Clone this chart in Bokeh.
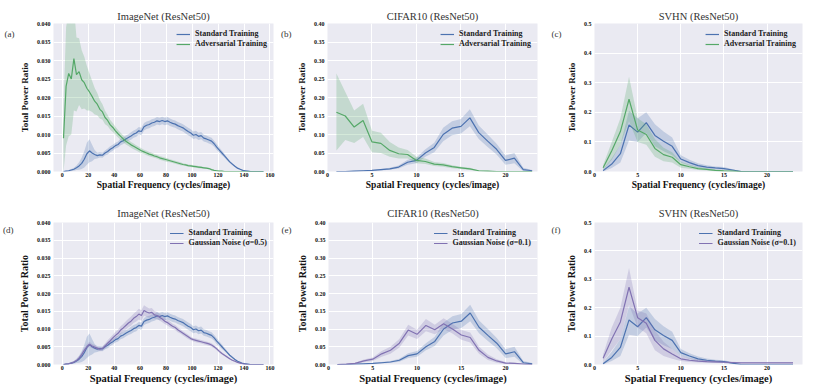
from bokeh.plotting import figure
from bokeh.layouts import column, row
from bokeh.models import (FixedTicker, PrintfTickFormatter, Legend, LegendItem,
                          Range1d, LinearAxis)
from bokeh.embed import file_html
from bokeh.resources import INLINE

# ---------------- data ----------------
# ImageNet: spatial frequency (every 2 cycles/image)
imagenet_freq = list(range(1, 156, 2))

imagenet_std = [
    0.0000, 0.0001, 0.0002, 0.0004, 0.0006, 0.0010, 0.0015, 0.0022, 0.0033, 0.0048,
    0.0056, 0.0050, 0.0046, 0.0043, 0.0045, 0.0044, 0.0050, 0.0054, 0.0060, 0.0064,
    0.0070, 0.0073, 0.0080, 0.0083, 0.0088, 0.0092, 0.0096, 0.0101, 0.0104, 0.0110,
    0.0108, 0.0121, 0.0125, 0.0127, 0.0131, 0.0133, 0.0137, 0.0135, 0.0138, 0.0135,
    0.0137, 0.0133, 0.0130, 0.0128, 0.0124, 0.0121, 0.0118, 0.0113, 0.0108, 0.0104,
    0.0098, 0.0100, 0.0095, 0.0097, 0.0090, 0.0088, 0.0085, 0.0082, 0.0075, 0.0066,
    0.0058, 0.0050, 0.0042, 0.0034, 0.0026, 0.0020, 0.0014, 0.0009, 0.0006, 0.0003,
    0.0002, 0.0001, 0.0000, 0.0000, 0.0000, 0.0000, 0.0000, 0.0000]
imagenet_std_spread = [
    0.0001, 0.0002, 0.0002, 0.0003, 0.0004, 0.0006, 0.0010, 0.0015, 0.0022, 0.0030,
    0.0031, 0.0022, 0.0012, 0.0008, 0.0007, 0.0007, 0.0007, 0.0008, 0.0008, 0.0008,
    0.0008, 0.0008, 0.0009, 0.0009, 0.0009, 0.0009, 0.0010, 0.0010, 0.0010, 0.0010,
    0.0010, 0.0010, 0.0010, 0.0010, 0.0010, 0.0010, 0.0010, 0.0010, 0.0010, 0.0010,
    0.0010, 0.0010, 0.0010, 0.0010, 0.0010, 0.0010, 0.0010, 0.0010, 0.0010, 0.0010,
    0.0010, 0.0010, 0.0010, 0.0010, 0.0009, 0.0009, 0.0009, 0.0009, 0.0008, 0.0008,
    0.0007, 0.0006, 0.0005, 0.0004, 0.0003, 0.0003, 0.0002, 0.0002, 0.0001, 0.0001,
    0.0001, 0.0000, 0.0000, 0.0000, 0.0000, 0.0000, 0.0000, 0.0000]

imagenet_adv = [
    0.0090, 0.0230, 0.0265, 0.0250, 0.0305, 0.0262, 0.0270, 0.0248, 0.0240, 0.0225,
    0.0215, 0.0203, 0.0190, 0.0182, 0.0168, 0.0161, 0.0146, 0.0138, 0.0126, 0.0119,
    0.0110, 0.0102, 0.0095, 0.0088, 0.0082, 0.0077, 0.0072, 0.0068, 0.0064, 0.0060,
    0.0056, 0.0053, 0.0050, 0.0047, 0.0045, 0.0042, 0.0040, 0.0037, 0.0035, 0.0033,
    0.0031, 0.0029, 0.0027, 0.0025, 0.0023, 0.0021, 0.0019, 0.0018, 0.0016, 0.0015,
    0.0014, 0.0013, 0.0012, 0.0011, 0.0010, 0.0009, 0.0008, 0.0005, 0.0003, 0.0002,
    0.0001, 0.0001, 0.0000, 0.0000, 0.0000, 0.0000, 0.0000, 0.0000, 0.0000, 0.0000,
    0.0000, 0.0000, 0.0000, 0.0000, 0.0000, 0.0000, 0.0000, 0.0000]
imagenet_adv_spread = [
    0.0090, 0.0160, 0.0170, 0.0150, 0.0140, 0.0100, 0.0090, 0.0080, 0.0070, 0.0060,
    0.0050, 0.0042, 0.0036, 0.0030, 0.0025, 0.0021, 0.0018, 0.0015, 0.0013, 0.0012,
    0.0011, 0.0010, 0.0010, 0.0009, 0.0009, 0.0008, 0.0008, 0.0008, 0.0007, 0.0007,
    0.0007, 0.0006, 0.0006, 0.0006, 0.0006, 0.0005, 0.0005, 0.0005, 0.0005, 0.0005,
    0.0005, 0.0004, 0.0004, 0.0004, 0.0004, 0.0004, 0.0003, 0.0003, 0.0003, 0.0003,
    0.0003, 0.0003, 0.0003, 0.0003, 0.0002, 0.0002, 0.0002, 0.0002, 0.0001, 0.0001,
    0.0001, 0.0001, 0.0000, 0.0000, 0.0000, 0.0000, 0.0000, 0.0000, 0.0000, 0.0000,
    0.0000, 0.0000, 0.0000, 0.0000, 0.0000, 0.0000, 0.0000, 0.0000]

imagenet_gau = [
    0.0000, 0.0001, 0.0002, 0.0004, 0.0007, 0.0011, 0.0018, 0.0028, 0.0040, 0.0050,
    0.0057, 0.0052, 0.0049, 0.0046, 0.0043, 0.0045, 0.0052, 0.0060, 0.0067, 0.0075,
    0.0082, 0.0088, 0.0097, 0.0103, 0.0110, 0.0117, 0.0122, 0.0130, 0.0135, 0.0142,
    0.0138, 0.0152, 0.0148, 0.0145, 0.0147, 0.0140, 0.0138, 0.0133, 0.0128, 0.0122,
    0.0118, 0.0113, 0.0108, 0.0104, 0.0098, 0.0093, 0.0088, 0.0083, 0.0078, 0.0073,
    0.0070, 0.0068, 0.0066, 0.0064, 0.0062, 0.0060, 0.0058, 0.0055, 0.0050, 0.0044,
    0.0037, 0.0031, 0.0026, 0.0021, 0.0016, 0.0012, 0.0009, 0.0006, 0.0004, 0.0002,
    0.0001, 0.0000, 0.0000, 0.0000, 0.0000, 0.0000, 0.0000, 0.0000]
imagenet_gau_spread = [
    0.0001, 0.0001, 0.0002, 0.0002, 0.0003, 0.0004, 0.0005, 0.0006, 0.0007, 0.0007,
    0.0007, 0.0006, 0.0006, 0.0006, 0.0006, 0.0006, 0.0007, 0.0008, 0.0009, 0.0009,
    0.0010, 0.0010, 0.0011, 0.0011, 0.0012, 0.0012, 0.0013, 0.0013, 0.0014, 0.0015,
    0.0015, 0.0015, 0.0014, 0.0013, 0.0012, 0.0011, 0.0010, 0.0009, 0.0009, 0.0008,
    0.0008, 0.0008, 0.0007, 0.0007, 0.0007, 0.0006, 0.0006, 0.0006, 0.0006, 0.0005,
    0.0005, 0.0005, 0.0005, 0.0005, 0.0005, 0.0005, 0.0005, 0.0005, 0.0004, 0.0004,
    0.0004, 0.0003, 0.0003, 0.0003, 0.0002, 0.0002, 0.0002, 0.0001, 0.0001, 0.0001,
    0.0001, 0.0000, 0.0000, 0.0000, 0.0000, 0.0000, 0.0000, 0.0000]

# CIFAR10 / SVHN: spatial frequency 1..23
small_freq = list(range(1, 24))

cifar_std = [0.000, 0.000, 0.001, 0.002, 0.003, 0.005, 0.007, 0.012, 0.025, 0.030, 0.050, 0.065,
             0.100, 0.117, 0.122, 0.145, 0.105, 0.082, 0.060, 0.030, 0.036, 0.005, 0.002]
cifar_std_lo = [0.000, 0.000, 0.000, 0.001, 0.002, 0.003, 0.005, 0.008, 0.018, 0.022, 0.040, 0.052,
                0.082, 0.098, 0.103, 0.122, 0.088, 0.066, 0.046, 0.018, 0.022, 0.001, 0.000]
cifar_std_hi = [0.001, 0.001, 0.002, 0.003, 0.004, 0.007, 0.010, 0.016, 0.032, 0.038, 0.060, 0.078,
                0.118, 0.136, 0.142, 0.168, 0.124, 0.100, 0.075, 0.043, 0.050, 0.010, 0.004]

cifar_adv = [0.160, 0.150, 0.120, 0.138, 0.080, 0.076, 0.057, 0.048, 0.046, 0.030, 0.027, 0.020,
             0.018, 0.013, 0.010, 0.007, 0.002, 0.001, 0.000, 0.000, 0.000, 0.000, 0.000]
cifar_adv_lo = [0.057, 0.085, 0.077, 0.093, 0.052, 0.050, 0.040, 0.035, 0.035, 0.022, 0.020, 0.015,
                0.013, 0.009, 0.007, 0.004, 0.001, 0.000, 0.000, 0.000, 0.000, 0.000, 0.000]
cifar_adv_hi = [0.265, 0.215, 0.165, 0.183, 0.110, 0.105, 0.080, 0.065, 0.058, 0.040, 0.035, 0.026,
                0.023, 0.017, 0.013, 0.010, 0.003, 0.002, 0.001, 0.000, 0.000, 0.000, 0.000]

cifar_gau = [0.000, 0.001, 0.003, 0.010, 0.015, 0.030, 0.040, 0.060, 0.097, 0.085, 0.110, 0.098,
             0.115, 0.100, 0.083, 0.076, 0.040, 0.020, 0.010, 0.004, 0.003, 0.001, 0.000]
cifar_gau_lo = [0.000, 0.000, 0.001, 0.006, 0.010, 0.022, 0.030, 0.048, 0.082, 0.072, 0.094, 0.085,
                0.100, 0.087, 0.070, 0.062, 0.030, 0.013, 0.005, 0.001, 0.001, 0.000, 0.000]
cifar_gau_hi = [0.001, 0.002, 0.005, 0.014, 0.020, 0.038, 0.050, 0.072, 0.112, 0.098, 0.128, 0.112,
                0.130, 0.114, 0.097, 0.090, 0.050, 0.028, 0.015, 0.007, 0.005, 0.002, 0.001]

svhn_std = [0.003, 0.025, 0.060, 0.157, 0.133, 0.165, 0.122, 0.102, 0.085, 0.042, 0.030, 0.020,
            0.015, 0.012, 0.010, 0.005, 0.000, 0.000, 0.000, 0.000, 0.000, 0.000, 0.000]
svhn_std_lo = [0.000, 0.012, 0.030, 0.105, 0.100, 0.130, 0.085, 0.068, 0.055, 0.030, 0.020, 0.013,
               0.009, 0.007, 0.005, 0.002, 0.000, 0.000, 0.000, 0.000, 0.000, 0.000, 0.000]
svhn_std_hi = [0.008, 0.045, 0.090, 0.205, 0.180, 0.200, 0.160, 0.135, 0.115, 0.055, 0.040, 0.028,
               0.021, 0.017, 0.015, 0.008, 0.001, 0.000, 0.000, 0.000, 0.000, 0.000, 0.000]

svhn_adv = [0.013, 0.070, 0.135, 0.244, 0.140, 0.125, 0.078, 0.057, 0.048, 0.023, 0.016, 0.010,
            0.007, 0.004, 0.002, 0.001, 0.000, 0.000, 0.000, 0.000, 0.000, 0.000, 0.000]
svhn_adv_lo = [0.005, 0.040, 0.090, 0.170, 0.100, 0.090, 0.050, 0.035, 0.030, 0.013, 0.009, 0.005,
               0.003, 0.001, 0.000, 0.000, 0.000, 0.000, 0.000, 0.000, 0.000, 0.000, 0.000]
svhn_adv_hi = [0.022, 0.100, 0.180, 0.320, 0.180, 0.160, 0.110, 0.080, 0.065, 0.033, 0.023, 0.015,
               0.011, 0.007, 0.004, 0.002, 0.001, 0.000, 0.000, 0.000, 0.000, 0.000, 0.000]

svhn_gau = [0.022, 0.090, 0.150, 0.272, 0.165, 0.145, 0.085, 0.055, 0.037, 0.020, 0.015, 0.012,
            0.010, 0.009, 0.008, 0.007, 0.006, 0.006, 0.006, 0.006, 0.006, 0.006, 0.006]
svhn_gau_lo = [0.010, 0.050, 0.090, 0.210, 0.130, 0.110, 0.050, 0.030, 0.020, 0.012, 0.009, 0.007,
               0.006, 0.005, 0.005, 0.004, 0.004, 0.004, 0.004, 0.004, 0.004, 0.004, 0.004]
svhn_gau_hi = [0.035, 0.130, 0.200, 0.340, 0.190, 0.180, 0.120, 0.080, 0.055, 0.030, 0.022, 0.018,
               0.015, 0.013, 0.011, 0.010, 0.008, 0.008, 0.008, 0.008, 0.008, 0.008, 0.008]

imagenet_xticks = [0, 20, 40, 60, 80, 100, 120, 140, 160]
small_xticks = [0, 5, 10, 15, 20]
imagenet_yticks = [0.0, 0.005, 0.010, 0.015, 0.020, 0.025, 0.030, 0.035, 0.040]
cifar_yticks = [0.0, 0.05, 0.10, 0.15, 0.20, 0.25, 0.30, 0.35, 0.40]
svhn_yticks = [0.0, 0.1, 0.2, 0.3, 0.4, 0.5]

# ---------------- style ----------------
BLUE = "#4C72B0"
GREEN = "#55A868"
PURPLE = "#8172B2"
SERIF = "Liberation Serif"
BG = "#EAEAF2"


def spread_bounds(mean, spread):
    lo = [m - s for m, s in zip(mean, spread)]
    hi = [m + s for m, s in zip(mean, spread)]
    return lo, hi


def make_panel(title, tag, tag_frac, xr, ymax, xticks, yticks, yfmt, series,
               width, height, bl, br, bt, bb, title_standoff, xlab_size, ylab_size):
    p = figure(width=width, height=height, x_range=Range1d(*xr), y_range=Range1d(0, ymax),
               output_backend="svg", toolbar_location=None,
               min_border_left=bl, min_border_right=br, min_border_top=bt,
               min_border_bottom=bb, background_fill_color=BG,
               border_fill_color="white", outline_line_color=None)
    p.title.text = title
    p.title.align = "center"
    p.title.text_font = SERIF
    p.title.text_font_style = "normal"
    p.title.text_font_size = "10.5px"
    p.title.text_color = "#333333"
    p.title.standoff = title_standoff

    items = []
    for label, color, xs, ys, lo, hi in series:
        p.varea(x=xs, y1=lo, y2=hi, fill_color=color, fill_alpha=0.25)
        r = p.line(x=xs, y=ys, line_color=color, line_width=1.2)
        items.append(LegendItem(label=label, renderers=[r]))
    leg = Legend(items=items, location="top_right", background_fill_alpha=0,
                 border_line_alpha=0, label_text_font=SERIF,
                 label_text_font_style="bold", label_text_font_size="8px",
                 label_text_color="#222222", glyph_width=14, glyph_height=8,
                 label_height=8, label_standoff=5, spacing=1, padding=2, margin=4)
    p.add_layout(leg)

    p.xaxis.ticker = FixedTicker(ticks=xticks)
    p.yaxis.ticker = FixedTicker(ticks=yticks)
    p.yaxis.formatter = PrintfTickFormatter(format=yfmt)
    for ax in (p.xaxis[0], p.yaxis[0]):
        ax.axis_line_color = None
        ax.major_tick_line_color = None
        ax.minor_tick_line_color = None
        ax.major_tick_out = 0
        ax.major_tick_in = 0
        ax.major_label_text_font = SERIF
        ax.major_label_text_font_style = "bold"
        ax.major_label_text_font_size = "6px"
        ax.major_label_text_color = "#111111"
        ax.axis_label_text_font = SERIF
        ax.axis_label_text_font_style = "bold"
        ax.axis_label_text_color = "#111111"
    p.xaxis.major_label_standoff = 1
    p.yaxis.major_label_standoff = 3
    p.xaxis.axis_label = "Spatial Frequency (cycles/image)"
    p.yaxis.axis_label = "Total Power Ratio"
    p.xaxis.axis_label_text_font_size = xlab_size
    p.yaxis.axis_label_text_font_size = ylab_size
    p.xaxis.axis_label_standoff = 0
    p.yaxis.axis_label_standoff = 4
    p.xgrid.grid_line_color = "white"
    p.ygrid.grid_line_color = "white"
    p.xgrid.grid_line_width = 1
    p.ygrid.grid_line_width = 1

    # panel tag "(a)" etc. drawn as the single tick label of an outer left axis
    tag_pos = round(ymax * tag_frac, 5)
    tag_axis = LinearAxis(ticker=FixedTicker(ticks=[tag_pos]),
                          major_label_overrides={tag_pos: tag},
                          axis_line_color=None, major_tick_line_color=None,
                          minor_tick_line_color=None, major_tick_out=0, major_tick_in=0,
                          major_label_standoff=2, major_label_text_font=SERIF,
                          major_label_text_font_size="9px",
                          major_label_text_color="#333333")
    p.add_layout(tag_axis, "left")
    return p


in_std_lo, in_std_hi = spread_bounds(imagenet_std, imagenet_std_spread)
in_adv_lo, in_adv_hi = spread_bounds(imagenet_adv, imagenet_adv_spread)
in_gau_lo, in_gau_hi = spread_bounds(imagenet_gau, imagenet_gau_spread)

IN_XR = (-6.7, 162.7)
CI_XR = (0, 23.6)
SV_XR = (0, 24.1)

row1 = dict(height=196, bt=23, bb=25, title_standoff=4, xlab_size="9.5px", ylab_size="9px")
row2 = dict(height=190, bt=26, bb=20, title_standoff=7, xlab_size="10.5px", ylab_size="10px")
col1 = dict(width=278, bl=53, br=5)
col2 = dict(width=270, bl=45, br=11)
col3 = dict(width=280, bl=35, br=26)

pa = make_panel("ImageNet (ResNet50)", "(a)", 0.932, IN_XR, 0.04, imagenet_xticks,
                imagenet_yticks, "%.3f",
                [("Standard Training", BLUE, imagenet_freq, imagenet_std, in_std_lo, in_std_hi),
                 ("Adversarial Training", GREEN, imagenet_freq, imagenet_adv, in_adv_lo, in_adv_hi)],
                **col1, **row1)
pb = make_panel("CIFAR10 (ResNet50)", "(b)", 0.932, CI_XR, 0.40, small_xticks,
                cifar_yticks, "%.2f",
                [("Standard Training", BLUE, small_freq, cifar_std, cifar_std_lo, cifar_std_hi),
                 ("Adversarial Training", GREEN, small_freq, cifar_adv, cifar_adv_lo, cifar_adv_hi)],
                **col2, **row1)
pc = make_panel("SVHN (ResNet50)", "(c)", 0.932, SV_XR, 0.5, small_xticks,
                svhn_yticks, "%.1f",
                [("Standard Training", BLUE, small_freq, svhn_std, svhn_std_lo, svhn_std_hi),
                 ("Adversarial Training", GREEN, small_freq, svhn_adv, svhn_adv_lo, svhn_adv_hi)],
                **col3, **row1)
pd_ = make_panel("ImageNet (ResNet50)", "(d)", 0.95, IN_XR, 0.04, imagenet_xticks,
                 imagenet_yticks, "%.3f",
                 [("Standard Training", BLUE, imagenet_freq, imagenet_std, in_std_lo, in_std_hi),
                  ("Gaussian Noise (σ=0.5)", PURPLE, imagenet_freq, imagenet_gau, in_gau_lo, in_gau_hi)],
                 **col1, **row2)
pe = make_panel("CIFAR10 (ResNet50)", "(e)", 0.95, CI_XR, 0.40, small_xticks,
                cifar_yticks, "%.2f",
                [("Standard Training", BLUE, small_freq, cifar_std, cifar_std_lo, cifar_std_hi),
                 ("Gaussian Noise (σ=0.1)", PURPLE, small_freq, cifar_gau, cifar_gau_lo, cifar_gau_hi)],
                **col2, **row2)
pf = make_panel("SVHN (ResNet50)", "(f)", 0.95, SV_XR, 0.5, small_xticks,
                svhn_yticks, "%.1f",
                [("Standard Training", BLUE, small_freq, svhn_std, svhn_std_lo, svhn_std_hi),
                 ("Gaussian Noise (σ=0.1)", PURPLE, small_freq, svhn_gau, svhn_gau_lo, svhn_gau_hi)],
                **col3, **row2)

layout = column(row(pa, pb, pc), row(pd_, pe, pf))

with open("out.html", "w") as f:
    f.write(file_html(layout, INLINE))
